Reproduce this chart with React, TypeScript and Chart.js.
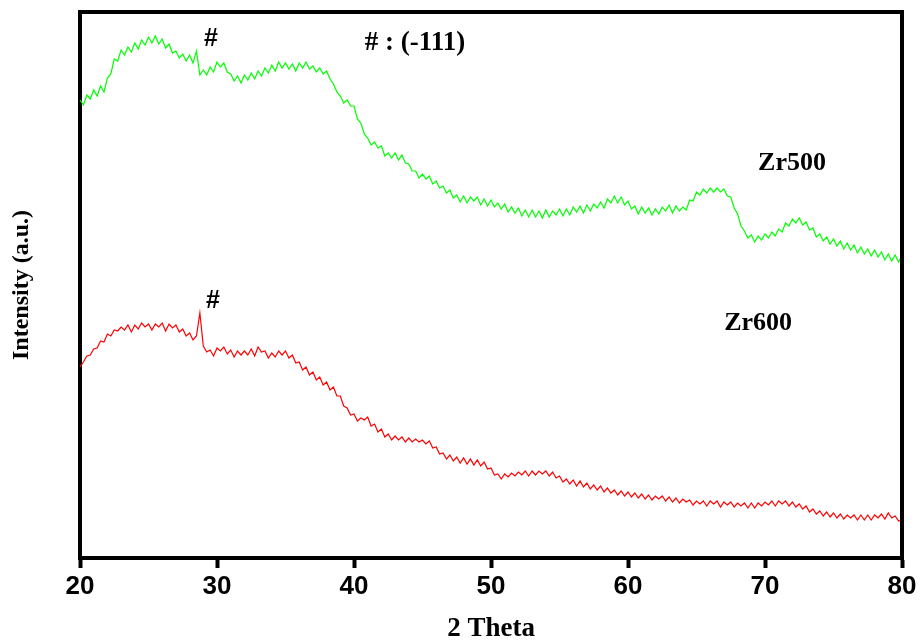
import React, { useEffect, useRef } from "react";
import { Chart, registerables } from "chart.js";

Chart.register(...registerables);

// 2θ sampling of the traces (degrees)
const THETA_START = 20;
const THETA_STEP = 0.25;

// Zr500 intensity (a.u., offset trace), one row per degree: x.00, x.25, x.50, x.75
const zr500: number[] = [
  458, 453, 463, 459,
  468, 462, 472, 466,
  480, 484, 499, 497,
  508, 503, 511, 506,
  515, 509, 518, 513,
  521, 515, 522, 514,
  519, 510, 514, 505,
  507, 500, 504, 497,
  503, 495, 507, 483,
  488, 483, 491, 486,
  496, 491, 495, 486,
  484, 477, 482, 475,
  483, 478, 485, 479,
  487, 482, 490, 485,
  493, 487, 496, 490,
  495, 489, 494, 487,
  495, 490, 496, 489,
  492, 486, 490, 484,
  487, 479, 474, 466,
  462, 455, 458, 452,
  452, 439, 435, 424,
  420, 413, 416, 410,
  412, 402, 405, 400,
  405, 398, 403, 395,
  394, 387, 387, 380,
  384, 379, 382, 374,
  377, 370, 372, 365,
  368, 360, 363, 356,
  362, 355, 361, 357,
  361, 353, 359, 352,
  358, 351, 355, 349,
  354, 346, 351, 345,
  350, 342, 348, 341,
  348, 341, 347, 340,
  348, 341, 347, 343,
  349, 342, 349, 343,
  351, 346, 352, 345,
  353, 347, 354, 350,
  356, 350, 359, 355,
  362, 355, 361, 353,
  357, 349, 352, 344,
  351, 345, 350, 343,
  349, 344, 351, 347,
  353, 345, 352, 347,
  351, 348, 358, 357,
  366, 363, 369, 365,
  370, 366, 370, 366,
  369, 362, 361, 350,
  344, 332, 327, 320,
  323, 316, 322, 318,
  324, 320, 326, 322,
  329, 326, 335, 332,
  339, 335, 340, 333,
  336, 328, 330, 321,
  324, 317, 321, 314,
  319, 312, 317, 309,
  315, 308, 313, 305,
  311, 304, 309, 302,
  308, 301, 306, 298,
  304, 297, 303, 296,
  302,
];

// Zr600 intensity (a.u.)
const zr600: number[] = [
  191, 196, 202, 203,
  209, 210, 217, 216,
  224, 222, 228, 227,
  231, 228, 233, 226,
  233, 229, 235, 231,
  234, 228, 234, 231,
  235, 227, 234, 230,
  233, 226, 229, 222,
  225, 218, 222, 245,
  212, 206, 208, 202,
  210, 207, 211, 204,
  208, 201, 207, 203,
  207, 203, 209, 202,
  211, 206, 207, 200,
  205, 201, 207, 203,
  207, 200, 203, 195,
  196, 188, 191, 183,
  186, 178, 181, 173,
  176, 168, 171, 162,
  162, 152, 150, 143,
  144, 137, 140, 138,
  141, 132, 134, 126,
  129, 121, 124, 118,
  122, 118, 121, 116,
  120, 116, 119, 116,
  118, 114, 117, 110,
  111, 104, 105, 99,
  103, 97, 101, 95,
  100, 94, 99, 93,
  98, 92, 96, 89,
  90, 83, 84, 79,
  84, 81, 85, 82,
  86, 83, 87, 82,
  87, 83, 87, 84,
  87, 82, 86, 80,
  82, 76, 79, 74,
  78, 72, 77, 71,
  75, 69, 73, 68,
  72, 66, 70, 65,
  68, 63, 67, 62,
  66, 61, 65, 60,
  64, 59, 63, 58,
  62, 59, 62, 57,
  61, 56, 60, 55,
  59, 56, 58, 53,
  57, 54, 57, 52,
  57, 54, 57, 51,
  56, 53, 56, 51,
  55, 52, 55, 50,
  55, 50, 55, 52,
  56, 53, 57, 52,
  57, 54, 57, 52,
  56, 51, 54, 49,
  52, 46, 49, 44,
  47, 42, 46, 41,
  45, 40, 44, 39,
  43, 40, 43, 38,
  43, 38, 43, 38,
  43, 40, 44, 39,
  45, 40, 42, 37,
  38,
];

const xMin = 20;
const xMax = 80;
const xTickStep = 10;
const yMin = 0;
const yMax = 546;

const seriesLabels = ["Zr500", "Zr600"];
const xTitle = "2 Theta";
const yTitle = "Intensity (a.u.)";

// Text annotations placed in data coordinates
const noteTexts = ["#", "# : (-111)", "Zr500", "#", "Zr600"];
const noteX = [29.56, 44.45, 71.97, 29.7, 69.5];
const noteY = [519, 515, 395, 257, 235];

const toPoints = (vals: number[]) =>
  vals.map((v, i) => ({ x: THETA_START + i * THETA_STEP, y: v }));

const SERIF = '"Liberation Serif", "Times New Roman", serif';
const SANS = '"Liberation Sans", Arial, sans-serif';

const noteFonts = [
  `bold 25px ${SANS}`,
  `bold 27px ${SERIF}`,
  `bold 26px ${SERIF}`,
  `bold 25px ${SANS}`,
  `bold 26px ${SERIF}`,
];

const framePlugin = {
  id: "frameAndNotes",
  afterDraw(chart: any) {
    const { ctx, chartArea, scales } = chart;
    ctx.save();
    ctx.strokeStyle = "#000";
    ctx.lineWidth = 4;
    ctx.beginPath();
    ctx.moveTo(chartArea.left - 2, chartArea.top);
    ctx.lineTo(chartArea.right, chartArea.top);
    ctx.lineTo(chartArea.right, chartArea.bottom + 2);
    ctx.stroke();

    ctx.fillStyle = "#000";
    ctx.textAlign = "center";
    ctx.textBaseline = "middle";
    noteTexts.forEach((t, i) => {
      ctx.font = noteFonts[i];
      ctx.fillText(t, scales.x.getPixelForValue(noteX[i]), scales.y.getPixelForValue(noteY[i]));
    });
    ctx.restore();
  },
};

export default function App() {
  const canvasRef = useRef<HTMLCanvasElement | null>(null);

  useEffect(() => {
    if (!canvasRef.current) return;
    const chart = new Chart(canvasRef.current, {
      type: "line",
      data: {
        datasets: [
          {
            label: seriesLabels[0],
            data: toPoints(zr500),
            borderColor: "#00ff00",
            borderWidth: 1.2,
            pointRadius: 0,
            tension: 0,
            fill: false,
          },
          {
            label: seriesLabels[1],
            data: toPoints(zr600),
            borderColor: "#ff0000",
            borderWidth: 1.2,
            pointRadius: 0,
            tension: 0,
            fill: false,
          },
        ],
      },
      options: {
        animation: false,
        responsive: false,
        maintainAspectRatio: false,
        layout: { padding: { left: 0, top: 12, right: 18, bottom: 0 } },
        plugins: {
          legend: { display: false },
          tooltip: { enabled: false },
        },
        scales: {
          x: {
            type: "linear",
            min: xMin,
            max: xMax,
            afterFit: (scale: any) => {
              scale.height = 83;
            },
            ticks: {
              stepSize: xTickStep,
              color: "#000",
              padding: 3,
              maxRotation: 0,
              font: { family: SANS, size: 26, weight: "bold" },
            },
            grid: {
              drawOnChartArea: false,
              drawTicks: true,
              tickLength: 10,
              tickWidth: 4,
              tickColor: "#000",
            },
            border: { display: true, color: "#000", width: 4 },
            title: {
              display: true,
              text: xTitle,
              color: "#000",
              font: { family: SERIF, size: 27, weight: "bold", lineHeight: 1 },
              padding: { top: 0, bottom: -2 },
            },
          },
          y: {
            type: "linear",
            min: yMin,
            max: yMax,
            afterFit: (scale: any) => {
              scale.width = 80;
            },
            ticks: { display: false },
            grid: { display: false },
            border: { display: true, color: "#000", width: 4 },
            title: {
              display: true,
              text: yTitle,
              color: "#000",
              font: { family: SERIF, size: 24, weight: "bold" },
              padding: { top: 7, bottom: 0 },
            },
          },
        },
      },
      plugins: [framePlugin],
    });
    return () => chart.destroy();
  }, []);

  return (
    <div style={{ position: "fixed", left: 0, top: 0, width: 920, height: 641, background: "#fff" }}>
      <canvas ref={canvasRef} width={920} height={641} style={{ display: "block" }} />
    </div>
  );
}
